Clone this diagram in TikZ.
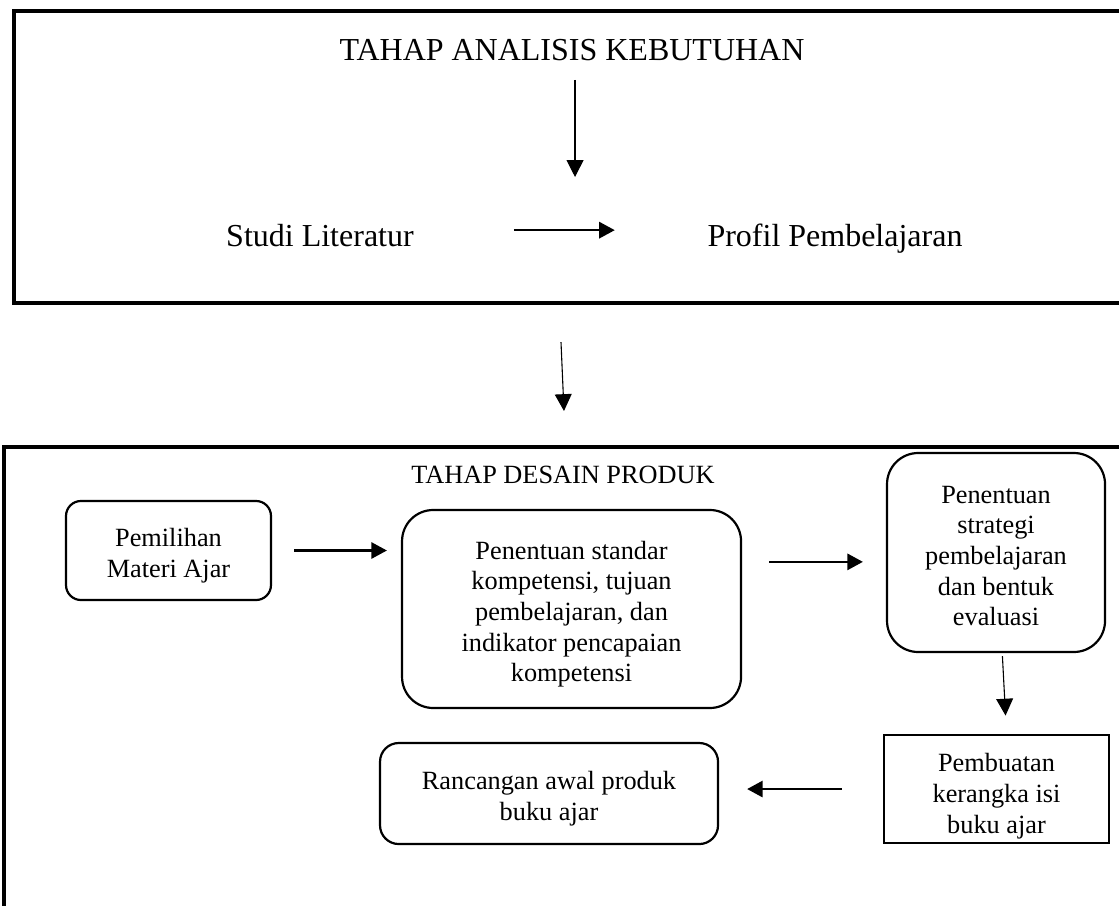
\documentclass[tikz,border=0pt]{standalone}
\usepackage{fontspec}
\setmainfont{Liberation Serif}
\usetikzlibrary{arrows.meta}
% pushes the first line of a box down a little
\newcommand{\atas}[1][13pt]{\rule{0pt}{#1}}
\tikzset{
    tahap/.style={line width=1.6pt},
    kotak/.style={draw, line width=1pt, align=center, inner sep=2pt,
        font=\fontsize{12}{14}\selectfont},
    bulat/.style={kotak, rounded corners=#1},
    bulat/.default=0.3cm,
    judul/.style={inner sep=0pt, anchor=base, font=\fontsize{14.6}{16}\selectfont},
    teks/.style={inner sep=0pt, anchor=base, font=\fontsize{12}{14}\selectfont},
    panah/.style={-{Triangle[length=0.25cm, width=0.26cm]}, line width=1.1pt},
    panahtipis/.style={-{Triangle[length=0.27cm, width=0.27cm]}, line width=0.5pt},
}

\begin{document}
\begin{tikzpicture}

    \useasboundingbox (0,0) rectangle (17.944, 14.513);
    \clip (0,0) rectangle (17.944, 14.513);

    % 1. Tahap analisis kebutuhan (upper frame)
    \draw[tahap] (0.2245, 14.336) rectangle (18.5, 9.654);
    \node[judul] (judul1) at (9.173, 13.550) {TAHAP ANALISIS KEBUTUHAN};
    \node[judul] (studi) at (5.131, 10.552) {Studi Literatur};
    \node[judul] (profil) at (13.390, 10.552) {Profil Pembelajaran};

    \coordinate (a1) at (9.221, 11.674);
    \draw[panahtipis, shorten <=0.32cm] (judul1.base -| a1) -- (a1);
    \draw[panah, shorten <=1.6cm, shorten >=1.48cm]
        ([yshift=0.27cm]studi.base east) -- ([yshift=0.27cm]profil.base west);

    % Arrow between the two stages
    \coordinate (a3s) at (8.996, 9.028);
    \coordinate (a3e) at (9.044, 7.922);
    \draw[panahtipis] (a3s) -- (a3e);

    % ==========================================
    % 2. Tahap desain produk (lower frame)
    % ==========================================
    \draw[tahap] (0.064, 7.344) rectangle (18.5, -0.5);
    \node[teks] (judul2) at (9.028, 6.767) {TAHAP DESAIN PRODUK};

    \node[bulat=0.24cm, minimum width=3.287cm, minimum height=1.588cm] (pemilihan)
        at (2.702, 5.685) {\atas Pemilihan\\Materi Ajar};
    \node[bulat=0.5cm, minimum width=5.436cm, minimum height=3.175cm] (penentuan)
        at (9.165, 4.747) {\atas Penentuan standar\\kompetensi, tujuan\\pembelajaran, dan\\indikator pencapaian\\kompetensi};
    \node[bulat=0.5cm, minimum width=3.496cm, minimum height=3.191cm] (strategi)
        at (15.972, 5.653) {\atas[11pt]Penentuan\\strategi\\pembelajaran\\dan bentuk\\evaluasi};
    \node[kotak, minimum width=3.608cm, minimum height=1.732cm] (pembuatan)
        at (15.980, 1.860) {\atas[15pt]Pembuatan\\kerangka isi\\buku ajar};
    \node[bulat, minimum width=5.420cm, minimum height=1.620cm] (rancangan)
        at (8.804, 1.788) {\atas Rancangan awal produk\\buku ajar};

    % Flow of the design stage
    \draw[panah, shorten <=0.353cm, shorten >=0.225cm]
        (pemilihan.east) -- (pemilihan.east -| penentuan.west);
    \draw[panah, shorten <=0.433cm, shorten >=0.369cm]
        ([yshift=-0.15cm]strategi.west -| penentuan.east) -- ([yshift=-0.15cm]strategi.west);
    \draw[panahtipis, shorten <=0.05cm, shorten >=0.29cm]
        ([xshift=0.1cm]strategi.south) -- ([xshift=0.16cm]pembuatan.north);
    \draw[panah, shorten <=0.657cm, shorten >=0.449cm]
        (pembuatan.west) -- (pembuatan.west -| rancangan.east);

\end{tikzpicture}
\end{document}
